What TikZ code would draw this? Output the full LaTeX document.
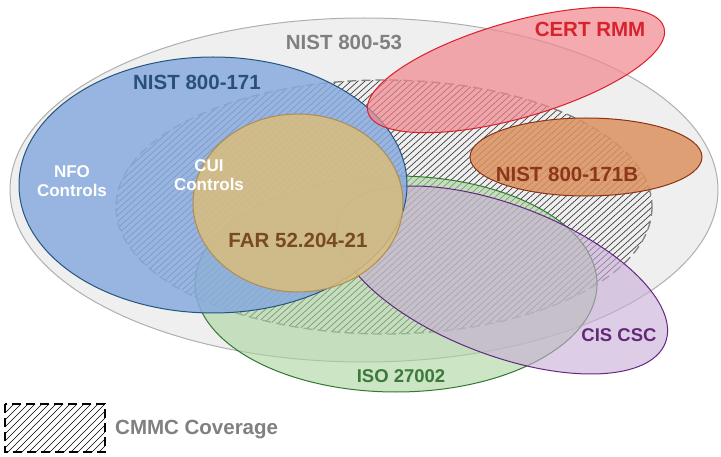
\documentclass[tikz,border=0pt]{standalone}
\usepackage{fontspec}
\setmainfont{Liberation Sans}
\definecolor{grayfill}{RGB}{239,239,239}
\definecolor{graydraw}{RGB}{175,175,175}
\definecolor{graytext}{RGB}{128,128,128}
\definecolor{bluefill}{RGB}{136,171,222}
\definecolor{bluedraw}{RGB}{36,85,127}
\definecolor{bluetext}{RGB}{40,80,120}
\definecolor{tanfill}{RGB}{218,189,124}
\definecolor{tandraw}{RGB}{176,140,80}
\definecolor{tantext}{RGB}{120,75,30}
\definecolor{redfill}{RGB}{240,134,141}
\definecolor{reddraw}{RGB}{220,30,40}
\definecolor{redtext}{RGB}{215,35,45}
\definecolor{orafill}{RGB}{221,146,96}
\definecolor{oradraw}{RGB}{140,50,20}
\definecolor{oratext}{RGB}{140,55,25}
\definecolor{grnfill}{RGB}{168,212,158}
\definecolor{grndraw}{RGB}{50,120,50}
\definecolor{grntext}{RGB}{60,120,60}
\definecolor{purfill}{RGB}{200,172,213}
\definecolor{purdraw}{RGB}{100,40,130}
\definecolor{purtext}{RGB}{100,40,120}
\definecolor{hatchcol}{RGB}{60,60,60}
\begin{document}
\begin{tikzpicture}[x=1pt,y=-1pt,
  lbl/.style={inner sep=0pt,font=\bfseries\fontsize{20.5}{22}\selectfont},
  slbl/.style={inner sep=0pt,font=\bfseries\fontsize{18.5}{20}\selectfont},
  wlbl/.style={inner sep=0pt,align=center,text=white,font=\bfseries\fontsize{17}{19}\selectfont},
  hatchline/.style={draw=hatchcol,line width=0.7pt},
  venn/.style={line width=1pt}]
\useasboundingbox (0,0) rectangle (721,457);
% NIST 800-53
\draw[venn,fill=grayfill,draw=graydraw] (364,190) ellipse [x radius=354, y radius=172];
% CMMC coverage hatch
\begin{scope}
  \clip (384,207) ellipse [x radius=268, y radius=127];
  \foreach \i in {-40,...,80} \draw[hatchline] (\i*7,460) -- ++(500,-450);
\end{scope}
\draw[draw=graytext,line width=1.3pt,dash pattern=on 9pt off 5pt] (384,207) ellipse [x radius=268, y radius=127];
% ISO 27002
\draw[venn,fill=grnfill,fill opacity=0.6,draw=grndraw] (396,284) ellipse [x radius=201, y radius=108];
% CIS CSC
\draw[venn,fill=purfill,fill opacity=0.6,draw=purdraw,rotate around={-21:(502,280)}] (502,280) ellipse [x radius=175, y radius=75];
% NIST 800-171
\draw[venn,fill=bluefill,fill opacity=0.85,draw=bluedraw] (213,185) ellipse [x radius=194, y radius=128];
% FAR
\draw[venn,fill=tanfill,fill opacity=0.85,draw=tandraw] (298,203) ellipse [x radius=105, y radius=89];
% NIST 800-171B
\draw[venn,fill=orafill,fill opacity=0.85,draw=oradraw] (586,157) ellipse [x radius=116, y radius=39];
% CERT RMM
\draw[venn,fill=redfill,fill opacity=0.7,draw=reddraw,rotate around={16:(516,70)}] (516,70) ellipse [x radius=154, y radius=48];
% labels
\node[lbl,text=graytext] (l53) at (344,42) {NIST 800-53};
\node[lbl,text=bluetext] (l171) at (197,82) {NIST 800-171};
\node[lbl,text=redtext] (lcert) at (590,29) {CERT RMM};
\node[lbl,text=oratext] (l171b) at (567,174) {NIST 800-171B};
\node[lbl,text=tantext] (lfar) at (298,240) {FAR 52.204-21};
\node[slbl,text=grntext] (liso) at (401,376) {ISO 27002};
\node[slbl,text=purtext] (lcis) at (619,335) {CIS CSC};
\node[wlbl] (lnfo) at (72,181) {NFO\\Controls};
\node[wlbl] (lcui) at (209,175) {CUI\\Controls};
% legend
\begin{scope}
  \clip (5,404) rectangle (105,452);
  \foreach \i in {-10,...,20} \draw[hatchline,draw=black] (\i*7,460) -- ++(70,-70);
\end{scope}
\draw[black,line width=1.3pt,dash pattern=on 9pt off 5pt] (5,404) rectangle (105,452);
\node[lbl,text=graytext,anchor=west] (lcmmc) at (115,430) {CMMC Coverage};
\end{tikzpicture}
\end{document}
